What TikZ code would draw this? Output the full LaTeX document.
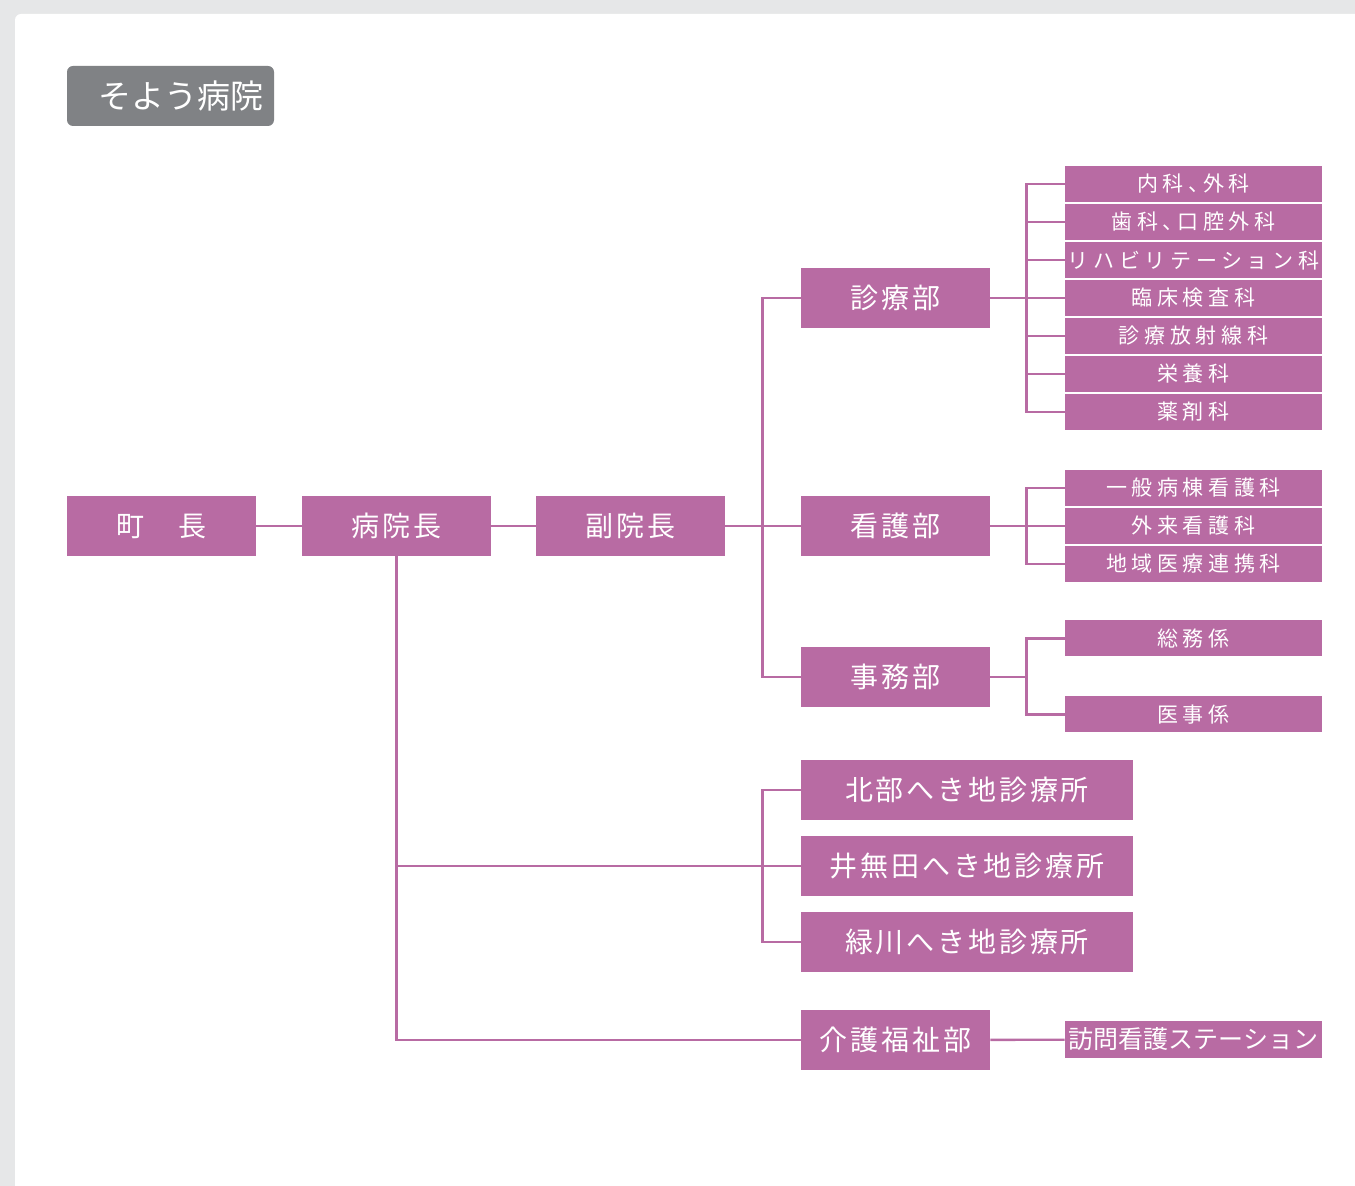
\documentclass[tikz,border=0pt]{standalone}
\usepackage{fontspec}
\setmainfont{Noto Sans CJK JP}
\newfontfamily\bigjp[LetterSpace=10]{Noto Sans CJK JP}
\newfontfamily\smalljp[LetterSpace=22]{Noto Sans CJK JP}
\newfontfamily\halfjp[LetterSpace=22,RawFeature=+halt]{Noto Sans CJK JP}
\definecolor{org}{HTML}{B86BA3}
\definecolor{titlegray}{HTML}{808285}
\definecolor{pagegray}{HTML}{E6E7E8}
\tikzset{
  box/.style={fill=org, text=white, inner sep=0pt, minimum width=94.5pt,
    minimum height=30pt, font=\bigjp\fontsize{14pt}{16pt}\selectfont},
  widebox/.style={box, minimum width=166pt},
  sect/.style={fill=org, text=white, inner sep=0pt, minimum width=128.5pt,
    minimum height=18pt, font=\smalljp\fontsize{10.5pt}{12pt}\selectfont},
  link/.style={draw=org, line width=1.2pt}
}

\begin{document}
\begin{tikzpicture}[x=0.5pt,y=-0.5pt]
  % page
  \fill[pagegray] (0,0) rectangle (1355,1186);
  \useasboundingbox (0,0) rectangle (1355,1186);
  \fill[white,rounded corners=3pt] (15,14) rectangle (1375,1206);
  \node[fill=titlegray, text=white, rounded corners=3pt, inner xsep=5.5pt,
    text width=92.5pt, align=right, minimum height=30pt,
    font=\fontsize{16.5pt}{18pt}\selectfont] (title) at (170.5,96) {そよう病院};

  % main line
  \node[box] (cho) at (161.5,526) {町　長};
  \node[box] (inchou) at (396.5,526) {病院長};
  \node[box] (fuku) at (630.5,526) {副院長};
  \node[box] (shinryo) at (895.5,298) {診療部};
  \node[box] (kango) at (895.5,526) {看護部};
  \node[box] (jimu) at (895.5,677) {事務部};
  \node[widebox] (hokubu) at (967,790) {北部へき地診療所};
  \node[widebox] (imuta) at (967,866) {井無田へき地診療所};
  \node[widebox] (midori) at (967,942) {緑川へき地診療所};
  \node[box] (kaigo) at (895.5,1040) {介護福祉部};

  % sections
  \foreach \t [count=\i] in {{\halfjp 内科、外科},{\halfjp 歯科、口腔外科},
      リハビリテーション科,臨床検査科,診療放射線科,栄養科,薬剤科}
    \node[sect] (k\i) at (1193.5,{184+38*(\i-1)}) {\t};
  \foreach \t [count=\i] in {一般病棟看護科,外来看護科,地域医療連携科}
    \node[sect] (n\i) at (1193.5,{488+38*(\i-1)}) {\t};
  \node[sect] (s1) at (1193.5,638.5) {総務係};
  \node[sect] (s2) at (1193.5,714.5) {医事係};
  \node[sect, minimum height=18.5pt, font=\fontsize{12.5pt}{14pt}\selectfont]
    (houmon) at (1193.5,1039.5) {訪問看護ステーション};

  % connectors
  \draw[link] (cho) -- (inchou) -- (fuku) -- (kango);
  \draw[link] (shinryo.west) -- ++(-38,0) |- (jimu.west);
  \draw[link] (inchou.south) |- (kaigo.west);
  \draw[link] (inchou.south |- imuta.west) -- (imuta.west);
  \draw[link] (hokubu.west) -- ++(-38,0) |- (midori.west);
  \draw[link] (kaigo) -- (houmon);

  \draw[link] (shinryo) -- (k4);
  \draw[link] (k1.west) -- ++(-38,0) |- (k7.west);
  \foreach \i in {2,...,6}
    \draw[link] (k\i.west) -- ++(-38,0);
  \draw[link] (kango) -- (n2);
  \draw[link] (n1.west) -- ++(-38,0) |- (n3.west);
  \draw[link] (jimu.east) -- ++(37,0);
  \draw[link] (s1.west) -- ++(-38,0) |- (s2.west);
\end{tikzpicture}
\end{document}
